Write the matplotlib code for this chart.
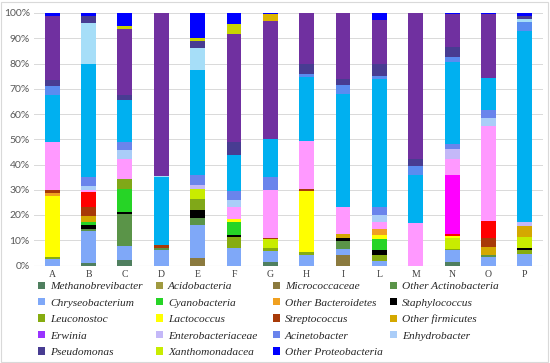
import matplotlib
matplotlib.use("Agg")
import matplotlib.pyplot as plt
from matplotlib.patches import Rectangle, Patch
import numpy as np

samples = ["A", "B", "C", "D", "E", "F", "G", "H", "I", "L", "M", "N", "O", "P"]

# Series in stacking order (bottom -> top); values in % for each sample A..P
methanobrevibacter = [0, 0.8, 2.1, 0, 0, 0, 1.2, 0, 0, 0, 0, 1.4, 0, 0]
micrococcaceae     = [0, 0, 0, 0, 2.8, 0, 0, 0, 4.0, 0, 0, 0, 0, 0]
chryseobacterium   = [2.5, 12.8, 5.7, 6.0, 13.4, 7.0, 4.5, 4.3, 2.6, 1.7, 0, 4.6, 3.4, 4.7]
other_actinobact   = [0, 1.0, 12.4, 1.0, 2.6, 0, 0, 0, 3.0, 0, 0, 0, 0.9, 0]
leuconostoc        = [0.9, 0, 0, 0, 0, 4.3, 1.3, 1.1, 0, 2.6, 0, 0.5, 0, 1.3]
staphylococcus     = [0, 1.4, 0.8, 0, 3.1, 0.7, 0, 0, 1.4, 1.7, 0, 0, 0, 1.0]
cyanobacteria      = [0, 1.3, 9.4, 0, 0, 5.3, 0, 0, 0, 4.4, 0, 0, 0, 0]
olive_other        = [0, 0, 4.0, 0, 4.6, 0, 0, 0, 0, 0, 0, 0, 0, 0]
xanthomonadacea    = [0, 0, 0, 0, 3.9, 0, 3.4, 0, 0, 0, 0, 4.2, 0, 4.3]
lactococcus        = [24.1, 0, 0, 0, 0, 1.0, 0, 24.0, 0, 1.6, 0, 1.0, 0, 0]
other_firmicutes   = [0, 2.3, 0, 0, 0, 0, 0, 0, 1.3, 0, 0, 0, 3.1, 4.4]
other_bacteroid    = [1.4, 0, 0, 0, 0, 0, 0, 0, 0, 2.6, 0, 0, 0, 0]
streptococcus      = [0.9, 3.4, 0, 1.0, 0, 0, 0.5, 1.0, 0, 0, 0, 0, 3.3, 0]
red_other          = [0, 6.3, 0, 0, 0, 0, 0, 0, 0, 0, 0, 0.6, 7.0, 0]
magenta_other      = [0, 0, 0, 0, 0, 0, 0, 0, 0, 0, 0, 23.7, 0, 0]
pink_other         = [19.1, 0.7, 7.9, 0, 0, 4.9, 18.9, 19.1, 10.9, 2.7, 16.9, 6.3, 37.5, 0]
enterobacteriaceae = [0, 0, 0, 0, 1.4, 0, 0, 0, 0, 0, 0, 3.9, 0, 1.6]
enhydrobacter      = [0, 1.5, 3.3, 0, 0, 2.6, 0, 0, 0, 2.6, 0, 0, 3.2, 0]
acinetobacter      = [0, 3.5, 3.3, 0, 3.9, 3.6, 5.2, 0, 0, 3.3, 0, 2.0, 3.0, 0]
cyan_other         = [18.7, 45.0, 16.8, 27.0, 41.9, 14.2, 15.2, 25.1, 44.8, 50.8, 19.1, 32.3, 12.8, 75.7]
blue_other         = [3.4, 0, 0, 0, 0, 0, 0, 1.4, 3.3, 1.2, 3.4, 2.0, 0, 3.5]
lightblue_other    = [0, 16.0, 0, 0.5, 8.4, 0, 0, 0, 0, 0, 0, 0, 0, 1.1]
erwinia            = [0] * 14
pseudomonas        = [2.6, 3.0, 1.9, 0, 3.0, 5.3, 0, 4.0, 2.6, 4.8, 2.9, 3.9, 0, 1.3]
purple_other       = [25.4, 0, 25.9, 64.5, 0, 42.8, 46.8, 20.0, 26.1, 17.4, 57.7, 13.1, 25.3, 0]
yellow_top         = [0, 0, 1.5, 0, 1.0, 3.9, 0, 0, 0, 0, 0, 0, 0, 0]
gold_top           = [0, 0, 0, 0, 0, 0, 2.5, 0, 0, 0, 0, 0, 0, 0]
acidobacteria      = [0] * 14
other_proteobact   = [1.0, 1.0, 5.0, 0, 10.0, 4.4, 0.5, 0, 0, 2.6, 0, 0.5, 0.5, 1.1]

# (label, values, colour)
series = [
    ("Methanobrevibacter", methanobrevibacter, "#4f7f5f"),
    ("Micrococcaceae", micrococcaceae, "#8b7a3e"),
    ("Chryseobacterium", chryseobacterium, "#7fa8f8"),
    ("Other Actinobacteria", other_actinobact, "#5a9448"),
    ("Leuconostoc", leuconostoc, "#86ac10"),
    ("Staphylococcus", staphylococcus, "#000000"),
    ("Cyanobacteria", cyanobacteria, "#26d426"),
    ("olive", olive_other, "#80a818"),
    ("Xanthomonadacea", xanthomonadacea, "#c8ec00"),
    ("Lactococcus", lactococcus, "#ffff00"),
    ("Other firmicutes", other_firmicutes, "#d4a800"),
    ("Other Bacteroidetes", other_bacteroid, "#f0a020"),
    ("Streptococcus", streptococcus, "#a83a08"),
    ("red", red_other, "#ff0000"),
    ("magenta", magenta_other, "#ff00ff"),
    ("pink", pink_other, "#ff99ff"),
    ("Enterobacteriaceae", enterobacteriaceae, "#c4b8f8"),
    ("Enhydrobacter", enhydrobacter, "#aacdf8"),
    ("Acinetobacter", acinetobacter, "#6a84ec"),
    ("cyan", cyan_other, "#00b0f0"),
    ("blue", blue_other, "#5a8cf0"),
    ("lightblue", lightblue_other, "#a6def8"),
    ("Erwinia", erwinia, "#9933ff"),
    ("Pseudomonas", pseudomonas, "#483c92"),
    ("purple", purple_other, "#7030a0"),
    ("yellowtop", yellow_top, "#c8d400"),
    ("goldtop", gold_top, "#dcb400"),
    ("Acidobacteria", acidobacteria, "#a09a40"),
    ("Other Proteobacteria", other_proteobact, "#0000ff"),
]

legend_columns = [
    ["Methanobrevibacter", "Chryseobacterium", "Leuconostoc", "Erwinia", "Pseudomonas"],
    ["Acidobacteria", "Cyanobacteria", "Lactococcus", "Enterobacteriaceae", "Xanthomonadacea"],
    ["Micrococcaceae", "Other Bacteroidetes", "Streptococcus", "Acinetobacter", "Other Proteobacteria"],
    ["Other Actinobacteria", "Staphylococcus", "Other firmicutes", "Enhydrobacter"],
]

W, H = 550, 363
fig = plt.figure(figsize=(W / 100, H / 100), dpi=100)
ax = fig.add_axes([34 / W, 1 - 265.5 / H, (543 - 34) / W, (265.5 - 13) / H])

x = np.arange(len(samples))
bottom = np.zeros(len(samples))
colors = {}
for name, vals, col in series:
    v = np.array(vals, dtype=float)
    ax.bar(x, v, width=0.41, bottom=bottom, color=col, linewidth=0, zorder=3)
    bottom += v
    colors[name] = col

ax.set_xlim(-0.5, len(samples) - 0.5)
ax.set_ylim(0, 100)
yt = np.arange(0, 101, 10)
ax.set_yticks(yt)
ax.set_yticklabels([f"{t}%" for t in yt], fontsize=7.5, color="#595959", family="Lato")
ax.set_xticks(x)
ax.set_xticklabels(samples, fontsize=7, color="#404040", family="Liberation Serif")
ax.tick_params(axis="both", length=0, pad=3)
ax.grid(axis="y", color="#d9d9d9", linewidth=0.7, zorder=0)
for s in ax.spines.values():
    s.set_visible(False)
ax.axhline(0, color="#d9d9d9", linewidth=0.8, zorder=1)

col_x = [38, 156, 273, 390]
for cx, names in zip(col_x, legend_columns):
    handles = [Patch(facecolor=colors[n], edgecolor="none", label=n) for n in names]
    fig.legend(handles=handles, ncol=1, loc="upper left", bbox_to_anchor=(cx / W, 1 - 281.5 / H),
               frameon=False, prop={"family": "Liberation Serif", "style": "italic", "size": 8.2},
               handlelength=0.6, handleheight=0.6, handletextpad=0.45,
               labelspacing=0.6, borderpad=0, borderaxespad=0, labelcolor="#262626")

fig.patches.append(Rectangle((1 / W, 1 / H), 1 - 3 / W, 1 - 3 / H, transform=fig.transFigure,
                             fill=False, edgecolor="#d9d9d9", linewidth=0.8))

fig.savefig("out.png", dpi=100)
